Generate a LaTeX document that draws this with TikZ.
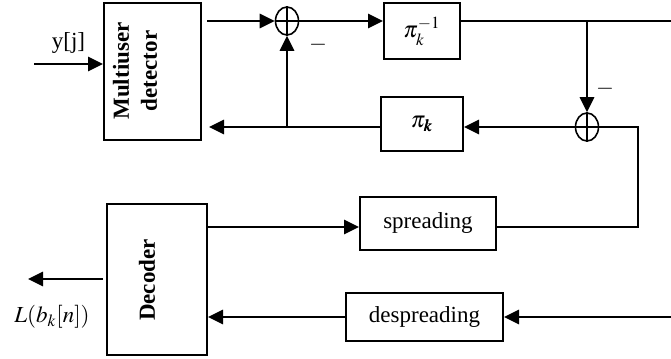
\documentclass[tikz,border=0pt]{standalone}
\usepackage{mathptmx}
\usepackage{fontspec}
\setmainfont{Liberation Serif}
\usepackage{bm}
\usetikzlibrary{positioning,calc,arrows.meta,shapes.geometric}
\tikzset{>={Triangle[length=7.5pt,width=7pt]}}
\tikzset{blk/.style={draw,line width=1pt,inner sep=0pt},
  sumnode/.style={draw,ellipse,line width=0.8pt,minimum width=11.5pt,minimum height=14pt,inner sep=0pt},
  thk/.style={line width=1.4pt},
  thn/.style={line width=0.9pt}}

\begin{document}
\begin{tikzpicture}[x=0.5pt,y=-0.5pt,font=\fontsize{11.5}{13}\selectfont]
\useasboundingbox (0,0) rectangle (671,359);
% blocks
\node[blk,minimum width=48.5pt,minimum height=68.5pt] (mud) at (152.5,71.5) {};
\node[rotate=90,align=center,font=\fontsize{11.5}{14}\selectfont\bfseries] at (135,71) {Multiuser\\detector};
\node[blk,minimum width=50pt,minimum height=75.5pt] (dec) at (157,279.5) {};
\node[rotate=90,font=\fontsize{11.5}{14}\selectfont\bfseries] at (147,280) {Decoder};
\node[blk,minimum width=38pt,minimum height=28pt] (pinv) at (422,31) {$\pi_k^{-1}$};
\node[blk,minimum width=41pt,minimum height=27pt] (pik) at (422,124) {$\pi_{\bm{k}}$};
\node[blk,minimum width=68pt,minimum height=26.5pt] (spr) at (428,223.5) {spreading};
\node[blk,minimum width=78.5pt,minimum height=24pt] (despr) at (424.5,317) {despreading};
% adders
\node[sumnode] (s1) at (287,21) {};
\draw[line width=0.8pt] (s1.north) -- (s1.south) (s1.west) -- (s1.east);
\node[sumnode] (s2) at (587,127) {};
\draw[line width=0.8pt] (s2.north) -- (s2.south) (s2.west) -- (s2.east);
% helper points
\coordinate (in) at (34,64);
\coordinate (br) at (587,21);
\coordinate (r1) at (671,21);
\coordinate (fb) at (287,127);
\coordinate (cr) at (638,227);
\coordinate (r2) at (671,317);
\coordinate (out) at (28,279);
% connectors
\draw[thk,->] (in) -- node[above,yshift=1pt] {y[j]} (mud.west |- in);
\draw[thk,->] ($(mud.east |- s1)+(5,0)$) -- (s1.west);
\draw[thk,->] (s1.east) -- (pinv.west |- s1);
\draw[thn] (pinv.east |- s1) -- (r1);
\draw[thk,->] (br) -- (s2.north);
\draw[thk,->] (s2.west) -- (pik.east |- s2);
\draw[thk,->] (pik.west |- s2) -- ($(mud.east |- s2)+(7,0)$);
\draw[thk,->] (fb) -- (s1.south);
\draw[thn] (s2.east) -| (cr) -- (spr.east |- cr);
\draw[thk,->] (dec.east |- cr) -- (spr.west |- cr);
\draw[thk,->] (r2) -- (despr.east);
\draw[thk,->] (despr.west) -- (dec.east |- despr);
\draw[thk,->] ($(dec.west |- out)+(-3,0)$) -- (out);
% labels
\node at (318,45) {$-$};
\node at (605,89) {$-$};
\node at (52,317) {$L(b_k[n])$};
\end{tikzpicture}
\end{document}
